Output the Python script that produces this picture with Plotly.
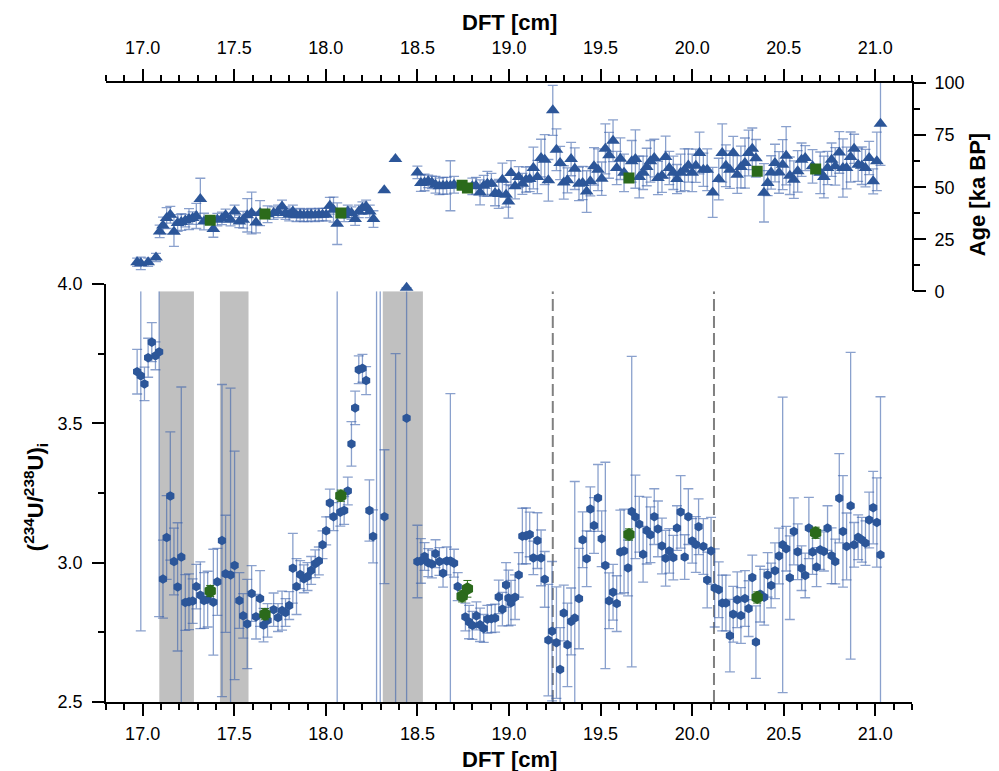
import plotly.graph_objects as go

# ---------------- data ----------------
# (234U/238U)i series
ratio_x = [16.97, 16.99, 17.01, 17.03, 17.05, 17.07, 17.09, 17.111, 17.131, 17.151,
           17.171, 17.191, 17.211, 17.233, 17.253, 17.273, 17.293, 17.315, 17.335, 17.355,
           17.386, 17.408, 17.433, 17.453, 17.48, 17.502, 17.528, 17.549, 17.571, 17.595,
           17.619, 17.641, 17.66, 17.682, 17.715, 17.739, 17.761, 17.78, 17.80, 17.82,
           17.84, 17.86, 17.88, 17.90, 17.92, 17.942, 17.962, 17.982, 18.002, 18.022,
           18.042, 18.062, 18.079, 18.10, 18.12, 18.14, 18.16, 18.18, 18.20, 18.22,
           18.238, 18.258, 18.277, 18.297, 18.32, 18.381, 18.441, 18.50, 18.519, 18.539,
           18.559, 18.579, 18.599, 18.62, 18.64, 18.66, 18.68, 18.70, 18.72, 18.762,
           18.782, 18.80, 18.822, 18.842, 18.862, 18.882, 18.904, 18.924, 18.944, 18.964,
           18.984, 18.997, 19.011, 19.033, 19.053, 19.073, 19.093, 19.113, 19.133, 19.155,
           19.175, 19.195, 19.215, 19.235, 19.259, 19.279, 19.299, 19.319, 19.339, 19.359,
           19.382, 19.402, 19.424, 19.444, 19.464, 19.486, 19.506, 19.526, 19.546, 19.568,
           19.588, 19.608, 19.628, 19.65, 19.67, 19.69, 19.711, 19.732, 19.752, 19.772,
           19.793, 19.813, 19.835, 19.855, 19.875, 19.897, 19.917, 19.937, 19.959, 19.979,
           20.0, 20.02, 20.035, 20.061, 20.082, 20.103, 20.123, 20.145, 20.164, 20.184,
           20.206, 20.224, 20.246, 20.266, 20.288, 20.308, 20.328, 20.348, 20.371, 20.393,
           20.412, 20.431, 20.452, 20.474, 20.494, 20.513, 20.533, 20.555, 20.576, 20.597,
           20.617, 20.637, 20.657, 20.679, 20.699, 20.719, 20.739, 20.761, 20.781, 20.803,
           20.823, 20.843, 20.865, 20.884, 20.906, 20.926, 20.946, 20.966, 20.988, 21.008,
           21.028]
ratio_y = [3.685, 3.670, 3.641, 3.735, 3.791, 3.742, 3.756, 2.941, 3.090, 3.239,
           3.004, 2.913, 3.020, 2.857, 2.860, 2.862, 2.914, 2.883, 2.864, 2.869,
           2.858, 2.931, 3.079, 2.960, 2.956, 2.990, 2.864, 2.809, 2.780, 2.889,
           2.806, 2.871, 2.776, 2.793, 2.831, 2.803, 2.828, 2.821, 2.846, 2.980,
           2.914, 2.957, 2.942, 2.950, 2.972, 2.996, 3.006, 3.064, 3.114, 3.214,
           3.165, 4.300, 3.181, 3.187, 3.257, 3.426, 3.555, 3.692, 3.697, 3.653,
           3.187, 3.094, 4.300, 4.300, 3.165, 2.400, 3.518, 3.004, 3.006, 3.022,
           3.000, 2.995, 3.032, 3.004, 2.962, 3.006, 3.006, 2.998, 2.914, 2.805,
           2.787, 2.775, 2.809, 2.777, 2.764, 2.797, 2.799, 2.801, 2.877, 2.833,
           2.920, 2.873, 2.856, 2.876, 2.956, 3.095, 3.096, 3.101, 3.017, 3.079,
           3.017, 2.940, 2.722, 2.754, 2.713, 2.617, 2.819, 2.705, 2.789, 2.801,
           2.871, 3.082, 3.014, 3.192, 3.133, 3.232, 3.086, 2.990, 2.863, 2.894,
           2.853, 3.038, 3.042, 2.981, 3.183, 3.164, 3.138, 3.030, 3.115, 3.100,
           3.165, 3.121, 3.060, 3.016, 3.042, 3.018, 3.124, 3.182, 3.020, 3.165,
           3.078, 3.065, 3.129, 3.058, 2.938, 3.042, 2.909, 2.903, 2.855, 2.855,
           2.738, 2.815, 2.867, 2.810, 2.871, 2.835, 2.947, 2.715, 2.887, 2.876,
           2.956, 2.918, 2.971, 3.024, 3.064, 3.050, 2.946, 3.112, 3.039, 2.980,
           2.954, 3.124, 3.038, 2.984, 3.046, 3.040, 3.124, 3.025, 3.004, 3.231,
           3.112, 3.058, 3.204, 3.064, 3.091, 3.082, 3.070, 3.153, 3.197, 3.144,
           3.028]
ratio_err = [0.08, 0.915, 0.06, 0.07, 0.07, 0.05, 0.95, 0.14, 0.15, 0.23,
             0.12, 0.23, 0.61, 0.10, 0.10, 0.08, 0.08, 0.12, 0.10, 0.10,
             0.19, 0.12, 0.56, 0.21, 0.67, 0.41, 0.10, 0.08, 0.16, 0.10,
             0.08, 0.10, 0.06, 0.06, 0.06, 0.05, 0.07, 0.05, 0.05, 0.125,
             0.10, 0.05, 0.05, 0.05, 0.05, 0.05, 0.05, 0.05, 0.05, 0.05,
             0.05, 1.90, 0.05, 0.05, 0.05, 0.08, 0.06, 0.05, 0.05, 0.05,
             0.11, 0.095, 1.90, 1.90, 0.24, 1.35, 1.20, 0.13, 0.08, 0.05,
             0.05, 0.05, 0.05, 0.05, 0.05, 0.05, 0.60, 0.05, 0.05, 0.05,
             0.06, 0.05, 0.05, 0.06, 0.05, 0.05, 0.05, 0.05, 0.06, 0.06,
             0.08, 0.10, 0.08, 0.08, 0.08, 0.10, 0.10, 0.08, 0.06, 0.10,
             0.10, 0.10, 0.20, 0.25, 0.20, 0.15, 0.10, 0.15, 0.12, 0.49,
             0.18, 0.10, 0.10, 0.08, 0.10, 0.12, 0.10, 0.37, 0.10, 0.10,
             0.10, 0.15, 0.15, 0.10, 0.557, 0.15, 0.10, 0.10, 0.12, 0.10,
             0.10, 0.10, 0.10, 0.10, 0.08, 0.08, 0.08, 0.13, 0.08, 0.10,
             0.08, 0.10, 0.10, 0.10, 0.10, 0.12, 0.14, 0.10, 0.10, 0.10,
             0.13, 0.10, 0.10, 0.10, 0.10, 0.10, 0.08, 0.13, 0.10, 0.10,
             0.08, 0.08, 0.10, 0.10, 0.53, 0.08, 0.15, 0.12, 0.10, 0.08,
             0.08, 0.11, 0.08, 0.07, 0.07, 0.07, 0.08, 0.10, 0.08, 0.16,
             0.20, 0.12, 0.55, 0.08, 0.08, 0.08, 0.08, 0.10, 0.13, 0.16,
             0.567]

# Age series
age_x = [16.97, 16.99, 17.03, 17.073, 17.093, 17.111, 17.131, 17.151, 17.171, 17.191,
         17.211, 17.233, 17.253, 17.273, 17.293, 17.315, 17.335, 17.386, 17.408, 17.433,
         17.453, 17.48, 17.502, 17.528, 17.549, 17.571, 17.595, 17.619, 17.641, 17.682,
         17.715, 17.739, 17.761, 17.78, 17.80, 17.82, 17.84, 17.86, 17.88, 17.90,
         17.92, 17.942, 17.962, 17.982, 18.002, 18.022, 18.042, 18.062, 18.10, 18.12,
         18.14, 18.16, 18.18, 18.20, 18.22, 18.24, 18.26, 18.319, 18.38, 18.441,
         18.50, 18.519, 18.539, 18.559, 18.579, 18.599, 18.62, 18.64, 18.66, 18.68,
         18.70, 18.80, 18.82, 18.842, 18.862, 18.882, 18.904, 18.924, 18.944, 18.964,
         18.984, 18.997, 19.011, 19.033, 19.053, 19.073, 19.093, 19.113, 19.133, 19.155,
         19.175, 19.195, 19.215, 19.239, 19.259, 19.279, 19.299, 19.319, 19.339, 19.359,
         19.382, 19.402, 19.424, 19.444, 19.464, 19.486, 19.506, 19.526, 19.546, 19.568,
         19.588, 19.608, 19.628, 19.67, 19.69, 19.711, 19.732, 19.752, 19.772, 19.793,
         19.813, 19.835, 19.855, 19.875, 19.897, 19.917, 19.937, 19.959, 19.979, 20.0,
         20.02, 20.04, 20.061, 20.082, 20.112, 20.145, 20.164, 20.184, 20.206, 20.224,
         20.246, 20.266, 20.288, 20.308, 20.328, 20.348, 20.392, 20.412, 20.431, 20.452,
         20.474, 20.494, 20.513, 20.533, 20.555, 20.576, 20.597, 20.617, 20.657, 20.699,
         20.719, 20.739, 20.761, 20.781, 20.803, 20.823, 20.843, 20.865, 20.884, 20.906,
         20.926, 20.946, 20.966, 20.988, 21.008, 21.028]
age_y = [14.0, 13.5, 14.0, 16.3, 28.8, 31.6, 35.2, 36.8, 28.6, 32.8,
         33.3, 34.0, 34.7, 35.2, 36.2, 44.3, 33.5, 30.0, 34.4, 35.0,
         36.5, 34.4, 38.4, 33.6, 34.4, 36.5, 37.6, 33.1, 37.6, 37.0,
         37.6, 38.4, 40.8, 37.6, 36.8, 38.4, 36.5, 36.8, 36.5, 36.5,
         36.8, 36.5, 36.8, 36.8, 36.8, 41.1, 39.2, 32.5, 36.5, 38.4,
         37.6, 34.7, 38.4, 40.0, 40.8, 38.4, 34.7, 48.5, 63.5, 1.8,
         57.1, 52.0, 52.3, 52.8, 52.3, 51.2, 50.4, 50.7, 50.7, 50.7,
         51.2, 50.4, 50.7, 47.5, 50.7, 51.6, 51.6, 47.1, 46.8, 53.6,
         46.4, 43.2, 56.8, 50.4, 54.9, 51.6, 53.6, 53.9, 59.2, 54.9,
         64.0, 63.2, 53.3, 86.9, 68.0, 61.6, 52.3, 53.3, 63.5, 58.9,
         51.6, 52.0, 47.9, 52.8, 60.0, 58.4, 54.1, 68.4, 65.3, 72.3,
         59.2, 63.7, 56.9, 62.4, 63.5, 54.9, 56.9, 59.7, 62.4, 64.0,
         54.4, 55.5, 64.5, 59.2, 56.9, 53.9, 56.9, 58.4, 60.4, 56.9,
         60.3, 66.4, 58.4, 58.4, 47.5, 53.9, 66.4, 60.3, 58.4, 66.4,
         56.0, 59.7, 61.6, 66.4, 68.4, 63.9, 47.3, 52.0, 57.1, 61.6,
         57.1, 60.8, 65.1, 55.5, 53.6, 57.6, 63.2, 64.0, 60.0, 56.9,
         54.9, 59.2, 63.2, 60.0, 66.7, 59.2, 59.2, 64.5, 68.4, 60.8,
         60.3, 59.2, 64.0, 52.8, 62.4, 80.5]
age_err = [2, 3, 2, 2, 3, 4, 5, 4, 7, 4,
           4, 3, 5, 3, 6, 10, 4, 4, 3, 3,
           3, 3, 3, 3, 4, 8, 10, 5, 6, 4,
           3, 3, 3, 3, 3, 3, 3, 3, 3, 3,
           3, 3, 3, 3, 3, 4, 6, 10, 3, 3,
           3, 3, 3, 3, 3, 3, 4, 0, 0, 0,
           3, 4, 4, 3, 3, 4, 4, 4, 4, 12,
           4, 4, 4, 6, 5, 6, 5, 6, 7, 8,
           6, 8, 6, 6, 5, 5, 6, 6, 10, 8,
           9, 12, 10, 12, 10, 8, 8, 6, 8, 10,
           8, 8, 10, 7, 9, 10, 8, 12, 11, 10,
           8, 10, 9, 10, 14, 10, 8, 9, 10, 9,
           8, 8, 10, 8, 8, 7, 9, 10, 8, 9,
           8, 10, 8, 10, 12, 10, 14, 10, 9, 8,
           9, 10, 12, 11, 10, 9, 14, 6, 8, 9,
           10, 12, 14, 9, 9, 10, 8, 6, 8, 10,
           10, 8, 8, 9, 10, 14, 10, 12, 7, 8,
           9, 9, 8, 6, 14, 20]

# highlighted samples
green_x = [17.369, 17.668, 18.082, 18.744, 18.773, 19.655, 20.355, 20.674]
green_ratio = [2.898, 2.815, 3.240, 2.879, 2.906, 3.101, 2.875, 3.107]
green_ratio_err = [0.02, 0.02, 0.02, 0.02, 0.03, 0.02, 0.02, 0.02]
green_age = [34.2, 37.1, 37.6, 50.9, 49.6, 54.4, 57.6, 58.7]

# shaded intervals and dashed markers (DFT, cm)
band_starts = [17.091, 17.422, 18.311]
band_ends = [17.280, 17.578, 18.530]
dashed_x = [19.239, 20.119]

x_ticks = [17.0, 17.5, 18.0, 18.5, 19.0, 19.5, 20.0, 20.5, 21.0]

# ---------------- styles ----------------
BLUE = "#2c5699"
GREEN = "#2b6a1b"
ERR = "rgba(60,98,172,0.6)"
FONT = "Liberation Sans, Arial, sans-serif"
TICKFONT = dict(family=FONT, size=18, color="black")
TITLEFONT = dict(family=FONT, size=22, color="black")

fig = go.Figure()

fig.add_trace(go.Scatter(
    x=ratio_x, y=ratio_y, mode="markers", xaxis="x", yaxis="y",
    marker=dict(symbol="hexagon", size=9.5, color=BLUE, line=dict(width=0)),
    error_y=dict(type="data", array=ratio_err, visible=True, color=ERR,
                 thickness=1.3, width=5),
    showlegend=False, hoverinfo="x+y"))

fig.add_trace(go.Scatter(
    x=green_x, y=green_ratio, mode="markers", xaxis="x", yaxis="y",
    marker=dict(symbol="hexagon", size=13, color=GREEN, line=dict(width=0)),
    error_y=dict(type="data", array=green_ratio_err, visible=True, color=GREEN,
                 thickness=1, width=4),
    showlegend=False))

fig.add_trace(go.Scatter(
    x=age_x, y=age_y, mode="markers", xaxis="x", yaxis="y2",
    marker=dict(symbol="triangle-up", size=12, color=BLUE, line=dict(width=0)),
    error_y=dict(type="data", array=age_err, visible=True, color=ERR,
                 thickness=1.3, width=5),
    showlegend=False))

fig.add_trace(go.Scatter(
    x=green_x, y=green_age, mode="markers", xaxis="x", yaxis="y2",
    marker=dict(symbol="square", size=11, color=GREEN, line=dict(width=0)),
    showlegend=False))

# dummy trace for the top axis
fig.add_trace(go.Scatter(x=[x_ticks[0]], y=[50], xaxis="x2", yaxis="y2",
                         mode="markers", marker=dict(opacity=0),
                         showlegend=False, hoverinfo="skip"))

shapes = []
for a, b in zip(band_starts, band_ends):
    shapes.append(dict(type="rect", xref="x", yref="paper", x0=a, x1=b, y0=0, y1=1,
                       fillcolor="#c0c0c0", line=dict(width=0), layer="below"))
for d in dashed_x:
    shapes.append(dict(type="line", xref="x", yref="paper", x0=d, x1=d, y0=0, y1=1,
                       line=dict(color="#808080", width=2, dash="12px,5px"),
                       layer="below"))

common_x = dict(range=[16.8, 21.2], tickvals=x_ticks,
                ticktext=[f"{v:.1f}" for v in x_ticks],
                ticks="outside", ticklen=12, tickwidth=1.6, tickcolor="black",
                showline=True, linewidth=1.6, linecolor="black",
                showgrid=False, zeroline=False, tickfont=TICKFONT,
                minor=dict(dtick=0.1, tick0=17.0, ticks="outside", ticklen=6,
                           tickwidth=1.6, tickcolor="black"))

fig.update_layout(
    # page body has an 8px margin; size/margins compensate so the plot area
    # lands where the reference has it
    width=991, height=763,
    margin=dict(l=98, r=87, t=75, b=69),
    paper_bgcolor="white", plot_bgcolor="white",
    shapes=shapes,
    xaxis=dict(**common_x, anchor="y", side="bottom", ticklabelstandoff=3),
    xaxis2=dict(**common_x, anchor="y2", side="top", overlaying="x",
                ticklabelstandoff=8),
    yaxis=dict(domain=[0, 0.6755], range=[2.5, 4.0], tickvals=[2.5, 3.0, 3.5, 4.0],
               ticktext=["2.5", "3.0", "3.5", "4.0"],
               ticks="outside", ticklen=12, tickwidth=1.6, tickcolor="black",
               showline=True, linewidth=1.6, linecolor="black", anchor="x",
               showgrid=False, zeroline=False, tickfont=TICKFONT,
               ticklabelstandoff=6,
               minor=dict(dtick=0.25, tick0=2.5, ticks="outside", ticklen=6,
                          tickwidth=1.6, tickcolor="black")),
    yaxis2=dict(domain=[0.6633, 1], range=[0, 100], tickvals=[0, 25, 50, 75, 100],
                side="right", anchor="x",
                ticks="outside", ticklen=12, tickwidth=1.6, tickcolor="black",
                showline=True, linewidth=1.6, linecolor="black",
                showgrid=False, zeroline=False, tickfont=TICKFONT,
                ticklabelstandoff=5,
                minor=dict(dtick=12.5, tick0=0, ticks="outside", ticklen=6,
                           tickwidth=1.6, tickcolor="black")),
    annotations=[
        dict(text="<b>DFT [cm]</b>", xref="paper", yref="paper", x=0.5, y=1.0985,
             showarrow=False, font=TITLEFONT, xanchor="center", yanchor="middle"),
        dict(text="<b>DFT [cm]</b>", xref="paper", yref="paper", x=0.5, y=-0.093,
             showarrow=False, font=TITLEFONT, xanchor="center", yanchor="middle"),
        dict(text="<b>(<sup>234</sup>U/<sup>238</sup>U)<sub>i</sub></b>",
             xref="paper", yref="paper", x=-0.088, y=0.331, textangle=-90,
             showarrow=False, font=TITLEFONT, xanchor="center", yanchor="middle"),
        dict(text="<b>Age [ka BP]</b>", xref="paper", yref="paper", x=1.081, y=0.819,
             textangle=-90, showarrow=False, font=TITLEFONT,
             xanchor="center", yanchor="middle"),
    ],
)

fig.write_html("out.html")
